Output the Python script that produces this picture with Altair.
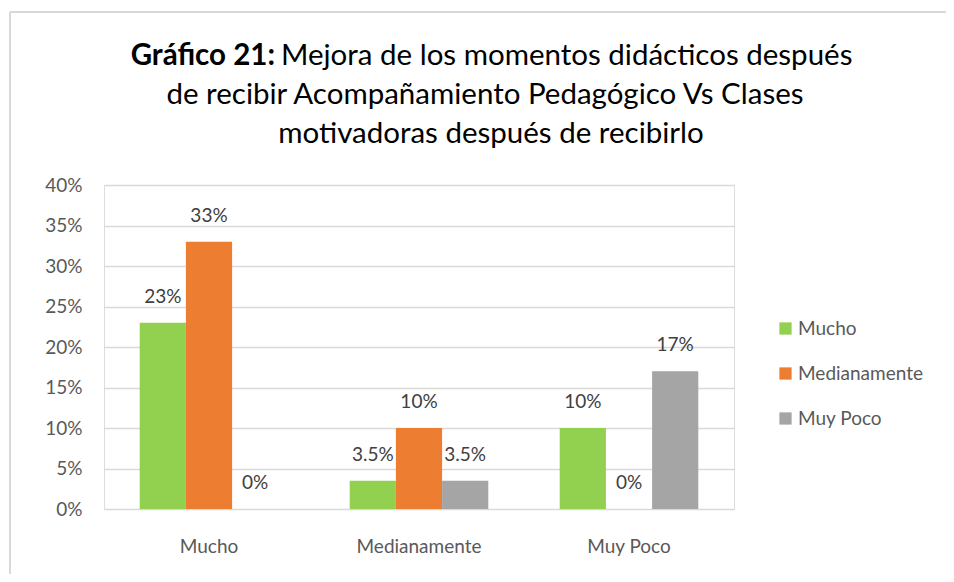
import altair as alt
import pandas as pd

categories = ["Mucho", "Medianamente", "Muy Poco"]
series = ["Mucho", "Medianamente", "Muy Poco"]
values_mucho = [0.23, 0.035, 0.10]
values_medianamente = [0.33, 0.10, 0.0]
values_muy_poco = [0.0, 0.035, 0.17]
label_mucho = ["23%", "3.5%", "10%"]
label_medianamente = ["33%", "10%", "0%"]
label_muy_poco = ["0%", "3.5%", "17%"]
colors = ["#92d050", "#ed7d31", "#a5a5a5"]

rows = []
for s, vals, labs in [(series[0], values_mucho, label_mucho),
                      (series[1], values_medianamente, label_medianamente),
                      (series[2], values_muy_poco, label_muy_poco)]:
    for c, v, l in zip(categories, vals, labs):
        rows.append({"categoria": c, "serie": s, "valor": v, "etiqueta": l})
df = pd.DataFrame(rows)

FONT = "Lato"
TFS = 29.5

x_enc = alt.X("categoria:N", sort=categories, title=None,
              scale=alt.Scale(paddingInner=0.34, paddingOuter=0.17),
              axis=alt.Axis(labelAngle=0, labelFontSize=19, labelColor="#595959",
                            labelFont=FONT, tickSize=0, domain=False, labelPadding=28,
                            grid=False))
xoff = alt.XOffset("serie:N", sort=series, scale=alt.Scale(paddingInner=0, paddingOuter=0))
y_enc = alt.Y("valor:Q", title=None,
              scale=alt.Scale(domain=[0, 0.4]),
              axis=alt.Axis(values=[0, 0.05, 0.1, 0.15, 0.2, 0.25, 0.3, 0.35, 0.4],
                            format=".0%", labelFontSize=19, labelColor="#595959",
                            labelFont=FONT, tickSize=0, domain=False, labelPadding=22,
                            gridColor="#d9d9d9", gridWidth=1.3))

bars = alt.Chart(df).mark_bar().encode(
    x=x_enc, xOffset=xoff, y=y_enc,
    color=alt.Color("serie:N", sort=series,
                    scale=alt.Scale(domain=series, range=colors),
                    legend=alt.Legend(title=None, orient="none", legendX=672, legendY=134,
                                      symbolType="square", symbolSize=150,
                                      symbolStrokeWidth=0,
                                      labelFontSize=19, labelColor="#595959",
                                      labelFont=FONT, rowPadding=25, labelOffset=3)),
)

texts = alt.Chart(df).mark_text(baseline="middle", dy=-26, fontSize=19,
                                color="#404040", font=FONT).encode(
    x=alt.X("categoria:N", sort=categories), xOffset=alt.XOffset("serie:N", sort=series),
    y="valor:Q", text="etiqueta:N")

title_bold = alt.Chart(pd.DataFrame({"t": ["Gráfico 21:"]})).mark_text(
    align="right", baseline="middle", fontSize=TFS, fontWeight="bold", font=FONT,
    color="#000000").encode(x=alt.value(171), y=alt.value(-129), text="t:N")
title_rest = alt.Chart(pd.DataFrame({"t": ["Mejora de los momentos didácticos después"]})).mark_text(
    align="left", baseline="middle", fontSize=TFS, font=FONT,
    color="#000000").encode(x=alt.value(177), y=alt.value(-129), text="t:N")
title_l2 = alt.Chart(pd.DataFrame({"t": ["de recibir Acompañamiento Pedagógico Vs Clases"]})).mark_text(
    align="center", baseline="middle", fontSize=TFS, font=FONT,
    color="#000000").encode(x=alt.value(381), y=alt.value(-90), text="t:N")
title_l3 = alt.Chart(pd.DataFrame({"t": ["motivadoras después de recibirlo"]})).mark_text(
    align="center", baseline="middle", fontSize=TFS, font=FONT,
    color="#000000").encode(x=alt.value(387), y=alt.value(-51), text="t:N")

frame_left = alt.Chart(pd.DataFrame({"a": [0]})).mark_rule(color="#d9d9d9", strokeWidth=2).encode(
    x=alt.value(-94), y=alt.value(-173), y2=alt.value(400))
frame_top = alt.Chart(pd.DataFrame({"a": [0]})).mark_rule(color="#d9d9d9", strokeWidth=2).encode(
    x=alt.value(-94), x2=alt.value(842), y=alt.value(-173))

chart = alt.layer(frame_left, frame_top, bars, texts, title_bold, title_rest, title_l2, title_l3).properties(
    width=630, height=324,
    autosize=alt.AutoSizeParams(type="none"),
    padding={"left": 96, "top": 177, "right": 212, "bottom": 65},
).configure_view(stroke=None).configure(background="white")

chart.save("out.html", embed_options={"renderer": "svg", "actions": False})
